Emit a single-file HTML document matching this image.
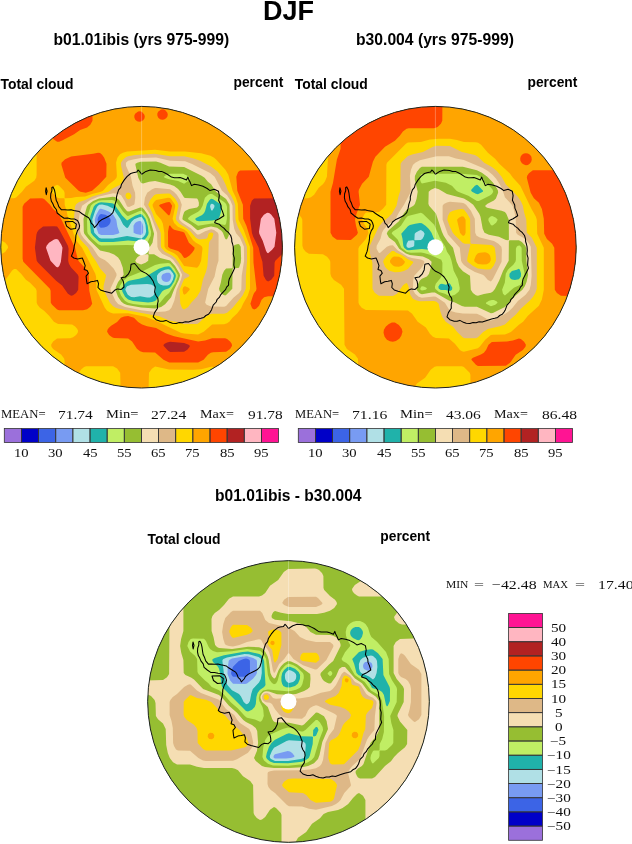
<!DOCTYPE html>
<html><head><meta charset="utf-8">
<style>
html,body{margin:0;padding:0;background:#fff;}
body{width:632px;height:844px;position:relative;overflow:hidden;}
.t{position:absolute;white-space:nowrap;line-height:1;filter:grayscale(1);}
.hb{font-family:"Liberation Sans",Arial,sans-serif;font-weight:bold;color:#000;}
.sr{font-family:"Liberation Serif","Times New Roman",serif;color:#111;}
svg{position:absolute;left:0;top:0;}
.st{position:absolute;white-space:nowrap;line-height:1;filter:grayscale(1);transform-origin:0 0;font-family:"Liberation Serif","Times New Roman",serif;color:#111;}
.lb{font-family:"Liberation Serif","Times New Roman",serif;font-size:12.3px;fill:#111;}
</style></head><body>
<svg width="632" height="844" viewBox="0 0 632 844">
<g>
<clipPath id="clipm1"><circle cx="141.6" cy="247.2" r="140.8"/></clipPath>
<g clip-path="url(#clipm1)">
<circle cx="141.6" cy="247.2" r="140.8" fill="#ffa500"/>
<circle cx="141.6" cy="247.2" r="141.5" fill="#3c64e6"/>
<path fill="#789bf2" fill-rule="evenodd" d="M1.1 105.7L283.1 105.7L283.1 388.7L0.1 388.7L0.1 105.7ZM99.7 214.7L98.1 217.2L97.5 219.7L99.1 225.9L100.1 227.4L101.1 227.8L104.1 227.6L107.1 226.4L109.1 224.7L110.2 222.7L110.7 220.7L110.3 218.7L108.1 216.2L105.4 214.7L101.1 214.1Z"/>
<path fill="#b0e0e6" fill-rule="evenodd" d="M1.1 105.7L283.1 105.7L283.1 388.7L0.1 388.7L0.1 105.7ZM99.0 209.7L96.1 214.9L94.7 219.7L96.0 226.7L98.5 233.7L101.1 235.0L113.1 234.9L118.0 233.7L119.4 232.7L117.4 226.7L116.3 219.7L113.1 214.5L109.2 211.7L105.1 209.9L101.1 208.7L100.1 208.8ZM136.9 221.7L135.1 222.9L133.5 225.7L133.6 232.7L136.1 234.0L141.1 234.9L142.1 234.3L143.1 232.7L143.2 226.7L142.5 223.7L141.1 221.3L139.1 221.1ZM166.5 272.7L163.1 274.0L162.1 275.0L161.4 276.7L161.6 278.7L162.8 280.7L164.1 281.6L166.1 282.1L168.1 281.8L169.6 280.7L170.7 278.7L171.3 275.7L170.4 273.7L169.2 272.7Z"/>
<path fill="#20b2aa" fill-rule="evenodd" d="M1.1 105.7L283.1 105.7L283.1 388.7L0.1 388.7L0.1 105.7ZM211.6 203.7L210.4 204.7L210.1 206.7L211.1 210.1L212.1 210.7L214.1 207.7L214.6 205.7L213.1 204.0ZM99.1 204.7L97.1 206.7L95.1 210.9L92.2 219.7L94.3 232.7L99.1 237.8L101.1 238.4L113.1 238.4L127.1 235.9L141.1 238.4L143.1 237.2L145.2 234.7L146.1 231.7L145.5 224.7L144.1 220.4L142.1 217.5L141.1 217.0L139.1 217.3L134.1 219.3L131.5 221.7L128.1 227.4L127.1 227.9L126.1 227.6L123.1 224.5L120.2 218.7L113.1 208.4L107.5 205.7L102.1 204.6ZM164.9 269.7L161.1 271.3L158.2 273.7L157.0 275.7L157.0 279.7L158.0 282.7L160.1 284.5L163.1 285.5L167.1 285.5L169.1 285.0L171.1 283.1L172.9 279.7L173.9 275.7L173.1 273.5L170.1 269.8L168.1 269.2ZM131.0 284.7L127.1 286.3L126.0 287.7L125.3 289.7L127.8 294.7L131.1 296.9L134.1 297.3L140.1 296.3L147.1 297.5L150.1 297.4L153.2 295.7L155.0 292.7L155.5 289.7L155.1 287.7L153.4 285.7L151.1 284.5L147.1 284.1Z"/>
<path fill="#c0ee64" fill-rule="evenodd" d="M1.1 105.7L283.1 105.7L283.1 388.7L0.1 388.7L0.1 105.7ZM209.8 199.7L207.0 203.7L205.2 210.7L204.1 213.1L202.1 215.1L196.1 217.9L195.3 218.7L195.5 219.7L196.6 220.7L199.1 221.3L212.1 220.5L216.2 219.7L218.4 218.7L219.2 217.7L221.1 211.4L221.7 205.7L219.8 203.7L213.1 199.2L211.1 198.8ZM98.7 202.7L95.3 204.7L93.7 206.7L90.5 215.7L89.7 220.7L90.9 232.7L93.1 235.8L99.1 241.4L101.1 241.9L113.1 241.9L128.1 240.4L141.1 241.8L143.4 240.7L146.3 237.7L148.2 234.7L148.6 232.7L147.7 225.7L145.5 218.7L142.1 214.4L140.1 214.1L135.1 215.8L127.1 220.6L122.1 215.5L114.1 204.1L112.1 203.2L107.4 202.7L101.1 202.3ZM164.7 266.7L158.9 268.7L145.1 276.9L139.1 278.8L129.1 280.8L127.1 281.7L124.1 284.8L121.9 288.7L122.4 291.7L125.1 296.7L128.1 299.5L133.1 301.1L148.1 302.4L152.1 302.1L155.1 301.0L157.3 298.7L162.1 291.6L164.1 290.1L169.1 288.2L171.1 286.3L174.0 281.7L175.5 277.7L175.9 275.7L175.4 273.7L171.1 267.7L169.1 266.3Z"/>
<path fill="#96be32" fill-rule="evenodd" d="M1.1 105.7L283.1 105.7L283.1 388.7L0.1 388.7L0.1 105.7ZM166.5 174.7L163.9 176.7L164.6 177.7L169.1 179.3L178.1 181.1L184.1 183.7L188.1 180.9L189.9 177.7L187.5 175.7L183.1 173.8L170.1 173.7ZM208.1 194.7L204.9 197.7L202.6 205.7L200.4 209.7L198.1 211.8L190.6 215.7L188.4 217.7L188.0 218.7L188.7 219.7L198.1 225.8L212.1 223.5L219.1 223.9L225.1 225.1L226.1 223.4L226.9 218.7L227.0 206.7L226.1 203.9L224.1 201.9L212.1 194.0L210.1 193.9ZM98.5 200.7L93.1 203.6L90.8 205.7L88.0 214.7L87.0 220.7L87.3 231.7L87.9 233.7L92.1 238.7L98.1 244.2L101.1 245.4L127.1 244.9L141.1 245.4L145.1 243.7L148.1 240.9L150.8 235.7L151.1 231.7L147.6 218.7L145.1 214.6L142.1 211.2L141.1 210.8L139.1 211.2L128.1 215.9L127.1 215.8L123.2 211.7L117.1 202.9L114.1 200.4L112.1 200.0L102.1 200.2ZM160.0 263.7L155.1 264.9L143.1 270.9L128.1 277.1L124.1 280.1L120.1 285.5L118.7 289.7L121.1 295.7L124.9 300.7L128.1 302.8L133.1 304.0L143.1 305.2L155.1 305.3L157.1 304.7L160.0 302.7L165.1 296.5L169.1 293.1L175.5 282.7L177.7 276.7L177.8 274.7L174.4 268.7L170.1 263.6L168.1 262.9Z"/>
<path fill="#f5deb3" fill-rule="evenodd" d="M1.1 105.7L283.1 105.7L283.1 388.7L0.1 388.7L0.1 105.7ZM140.7 161.7L137.2 162.7L135.5 163.7L135.4 164.7L138.3 177.7L141.1 183.0L143.1 183.5L149.1 181.8L155.1 180.9L170.1 184.4L174.1 186.1L178.1 189.0L180.5 191.7L184.1 197.6L185.1 198.1L197.1 198.6L198.1 199.9L198.9 202.7L198.8 205.7L197.1 207.4L189.1 209.1L185.1 211.0L184.1 212.3L182.9 215.7L182.4 218.7L182.8 219.7L191.0 224.7L197.1 230.0L198.1 230.3L205.1 227.8L211.1 226.4L217.1 227.8L221.4 230.7L222.9 232.7L225.1 238.5L226.1 239.4L227.1 239.0L228.7 235.7L229.4 229.7L229.8 217.7L229.5 204.7L226.1 199.0L216.0 191.7L211.1 184.2L207.9 181.7L204.6 177.7L201.6 175.7L184.1 167.0L169.1 166.5L160.4 162.7L156.1 161.5ZM112.7 196.7L99.1 198.4L93.1 201.1L88.1 204.7L86.9 206.7L83.5 218.7L83.8 231.7L84.3 233.7L89.1 239.7L100.1 250.5L109.1 252.5L114.1 254.5L118.1 257.5L120.3 260.7L122.8 267.7L123.7 274.7L118.1 282.1L116.0 286.7L115.4 289.7L118.0 296.7L121.4 301.7L124.0 303.7L127.1 305.0L141.1 307.6L155.1 308.5L161.1 306.9L165.1 304.3L171.1 297.3L174.0 289.7L178.8 279.7L180.0 275.7L179.6 273.7L175.1 266.0L170.1 260.4L160.1 258.1L154.1 254.3L149.1 254.2L148.6 253.7L148.7 248.7L152.5 242.7L154.1 233.7L149.8 218.7L147.2 213.7L144.1 209.5L142.1 207.6L140.1 207.4L129.1 211.4L127.1 211.3L124.1 207.7L119.1 199.9L115.1 197.1ZM235.3 244.7L233.7 245.7L232.7 247.7L232.6 267.7L232.1 268.2L226.1 268.5L224.1 270.8L222.3 274.7L220.8 282.7L219.0 288.7L219.5 290.7L220.9 292.7L223.1 294.7L225.1 295.6L226.1 295.1L232.3 288.7L232.6 268.7L233.1 268.2L238.1 268.1L239.1 267.4L240.7 262.7L241.1 258.7L240.7 246.7L239.1 244.2L238.1 244.0ZM141.1 254.6L148.1 254.2L148.6 255.7L148.2 260.7L145.5 262.7L141.1 264.4L136.6 262.7L135.2 260.7L137.1 257.5Z"/>
<path fill="#deb887" fill-rule="evenodd" d="M1.1 105.7L283.1 105.7L283.1 388.7L0.1 388.7L0.1 105.7ZM148.9 157.7L141.1 158.1L133.1 159.5L128.1 160.8L125.9 162.7L126.0 165.7L130.9 176.7L132.6 185.7L135.1 192.7L135.3 197.7L134.5 203.7L134.0 204.7L129.1 206.9L127.1 206.5L124.5 200.7L121.1 195.2L117.8 193.7L113.1 193.2L98.1 196.7L90.1 200.2L82.1 205.7L79.9 212.7L78.7 219.7L80.2 231.7L81.3 234.7L84.2 238.7L92.7 247.7L98.1 255.9L100.1 257.8L105.1 260.3L108.1 262.7L113.8 268.7L116.5 273.7L116.5 275.7L110.4 288.7L110.8 290.7L115.4 300.7L118.1 304.0L125.1 307.1L141.1 310.2L156.1 311.9L165.1 311.4L169.1 310.3L171.4 307.7L174.3 300.7L176.7 289.7L180.9 279.7L182.2 274.7L178.3 266.7L173.1 259.7L170.1 257.4L162.1 253.8L158.5 249.7L157.4 246.7L157.1 232.7L150.4 214.7L144.0 204.7L144.9 197.7L147.2 192.7L152.1 189.2L155.1 188.0L157.1 187.9L170.1 189.2L173.8 191.7L176.8 194.7L180.0 199.7L181.8 204.7L179.1 217.7L179.4 219.7L182.1 222.4L191.1 228.4L197.1 234.4L199.1 234.6L205.1 231.2L211.1 229.3L214.1 230.1L217.9 232.7L218.6 234.7L218.5 260.7L216.6 266.7L214.5 276.7L208.3 288.7L205.1 302.7L206.6 304.7L211.1 306.5L224.1 306.7L226.1 306.1L233.4 297.7L239.1 292.9L241.3 289.7L241.7 275.7L244.1 260.7L243.9 246.7L240.1 238.1L236.1 233.2L234.2 228.7L232.7 219.7L232.5 205.7L230.5 200.7L227.1 195.3L222.0 190.7L214.6 176.7L210.1 173.0L191.5 163.7L185.1 161.3L170.1 160.8L156.1 157.6Z"/>
<path fill="#ffd700" fill-rule="evenodd" d="M1.1 105.7L283.1 105.7L283.1 388.7L0.1 388.7L0.1 105.7ZM154.5 153.7L135.1 155.1L128.1 156.2L126.1 157.0L122.9 159.7L121.0 162.7L121.1 166.0L123.9 177.7L122.4 181.7L120.1 184.7L113.1 188.3L108.5 191.7L92.1 196.5L85.1 200.0L79.1 202.1L76.1 204.3L74.9 206.7L74.0 218.7L76.8 232.7L80.6 239.7L88.0 247.7L91.5 254.7L96.3 261.7L100.1 268.5L105.8 274.7L106.1 275.7L103.6 285.7L103.5 289.7L109.9 302.7L113.1 306.3L116.1 308.0L120.1 309.1L159.1 316.2L169.1 320.4L178.1 322.2L184.1 324.1L197.1 324.0L199.1 322.7L205.2 316.7L209.1 314.5L212.1 313.7L224.1 313.7L227.1 312.7L232.7 307.7L242.5 295.7L245.8 288.7L245.9 275.7L247.1 260.7L246.9 246.7L243.1 237.0L237.8 226.7L236.1 222.0L235.4 218.7L235.3 205.7L234.2 201.7L231.8 196.7L227.9 190.7L225.7 184.7L222.3 177.7L217.8 171.7L211.1 166.5L200.1 160.7L193.1 158.2L184.1 156.3L170.1 156.2ZM128.1 192.6L130.1 193.3L131.5 195.7L131.1 197.5L130.1 198.7L128.1 199.4L126.1 197.9L125.4 195.7L126.1 193.6ZM162.1 193.7L168.1 193.4L170.1 193.8L175.1 198.6L177.6 202.7L178.5 205.7L175.9 217.7L176.1 219.9L179.4 223.7L185.9 227.7L190.1 231.0L196.1 238.1L199.1 239.4L206.1 238.8L207.4 237.7L208.5 233.7L209.8 232.7L212.1 232.4L213.5 233.7L212.1 238.6L210.0 240.7L209.0 242.7L207.4 265.7L206.0 271.7L202.9 279.7L200.5 290.7L197.1 296.6L191.2 302.7L188.1 306.9L184.1 309.6L182.1 308.2L180.3 303.7L179.5 289.7L184.1 279.1L188.6 276.7L189.5 275.7L189.2 274.7L184.1 272.0L178.7 262.7L175.1 258.0L172.1 255.6L165.0 251.7L161.3 247.7L160.9 245.7L160.8 233.7L160.1 230.7L155.1 220.8L152.1 212.2L148.2 204.7L150.3 199.7L154.1 195.3L156.1 194.2Z"/>
<path fill="#ffa500" fill-rule="evenodd" d="M1.1 105.7L283.1 105.7L283.1 388.7L218.6 388.7L218.2 372.7L215.3 368.7L212.1 366.6L201.1 369.2L193.1 369.7L169.1 369.6L155.1 366.6L151.9 368.7L149.0 372.7L148.6 388.7L120.6 388.7L120.2 372.7L117.1 368.5L113.1 366.3L86.1 366.3L84.1 367.1L81.1 369.5L76.3 376.7L73.1 379.3L71.0 379.7L67.1 376.9L64.7 372.7L64.6 360.7L64.1 358.4L61.1 354.5L53.1 348.9L51.5 346.7L51.1 344.7L53.1 341.5L57.1 338.6L70.1 338.2L73.1 337.3L76.1 334.9L77.7 332.7L78.1 330.7L77.1 328.7L75.1 326.5L72.1 324.6L58.1 324.1L53.9 321.7L49.1 315.7L44.1 310.8L39.9 307.7L37.5 304.7L36.7 302.7L36.6 290.7L35.9 288.7L30.1 282.8L25.9 279.7L21.1 273.7L16.1 269.0L14.1 269.1L12.1 270.5L6.1 278.9L3.1 281.4L0.1 282.7L0.1 254.7L5.1 251.9L8.1 247.7L7.7 245.7L5.3 242.7L0.1 239.7L0.1 198.2L14.1 198.2L16.1 197.5L22.0 191.7L25.9 186.7L34.3 180.7L36.2 177.7L36.6 174.7L36.6 150.7L35.7 147.7L33.1 144.5L25.1 138.9L19.3 130.7L11.1 124.9L5.3 116.7L0.1 113.7L0.1 105.7ZM155.0 149.7L127.1 151.6L122.9 152.7L120.1 154.2L117.4 157.7L116.1 162.5L116.9 175.7L116.5 177.7L114.8 179.7L108.1 185.0L103.0 190.7L100.9 191.7L92.1 193.9L85.1 196.4L76.1 197.1L71.1 198.1L65.1 198.2L64.6 197.7L64.6 192.7L63.9 190.7L59.1 185.7L57.1 184.7L55.1 185.7L52.9 187.7L51.5 189.7L51.4 191.7L57.1 197.5L59.1 198.2L64.1 198.2L64.6 198.7L64.7 204.7L66.8 211.7L68.1 218.7L71.2 225.7L74.2 235.7L77.2 241.7L82.1 247.7L95.3 273.7L96.1 276.7L96.4 289.7L104.8 307.7L107.1 310.7L110.1 312.5L113.1 313.5L128.1 313.2L145.6 316.7L156.1 321.0L180.8 332.7L184.1 333.5L198.1 334.4L203.7 331.7L212.1 324.4L224.1 324.2L227.1 323.3L229.3 321.7L232.5 317.7L237.1 313.4L241.1 308.3L243.1 303.7L247.7 295.7L250.0 288.7L249.9 246.7L243.6 229.7L238.5 219.7L237.8 203.7L235.9 197.7L232.6 190.7L228.3 174.7L225.4 169.7L216.1 159.5L214.1 157.7L210.5 155.7L201.1 153.2L185.1 151.6L170.1 151.5ZM168.1 197.7L170.1 198.1L171.1 199.0L175.1 204.7L175.2 206.7L172.6 218.7L174.1 222.9L177.9 226.7L184.1 229.4L187.1 231.7L193.1 240.3L196.0 242.7L200.1 244.9L202.1 246.7L202.5 248.7L201.1 260.7L199.1 265.6L197.1 267.7L184.1 265.9L177.3 255.7L174.1 253.3L168.1 250.5L165.8 248.7L164.5 246.7L164.3 232.7L162.9 223.7L161.1 219.7L156.1 214.0L152.9 206.7L152.5 204.7L154.1 201.9L156.1 200.1ZM184.1 286.4L185.1 286.2L188.1 287.4L189.6 288.7L189.7 289.7L186.1 293.7L184.1 294.8L183.1 293.2L182.5 289.7L183.1 287.6Z"/>
<path fill="#ff4500" fill-rule="evenodd" d="M22.1 105.7L92.6 105.7L92.5 120.7L90.3 124.7L87.1 127.4L80.1 130.0L74.1 134.3L62.1 140.4L59.1 141.7L57.1 141.8L52.9 138.7L47.3 130.7L39.1 124.9L33.3 116.7L25.1 110.9L23.1 108.1ZM161.1 109.4L163.1 109.3L165.1 109.9L167.4 112.7L167.8 114.7L167.3 116.7L166.1 118.3L164.1 119.5L162.1 119.7L160.1 119.2L158.3 117.7L157.4 115.7L157.3 113.7L158.1 111.7ZM138.1 111.4L140.1 111.3L142.1 111.9L144.4 114.7L144.8 116.7L144.3 118.7L143.1 120.3L141.1 121.5L139.1 121.7L137.1 121.2L135.3 119.7L134.4 117.7L134.3 115.7L135.1 113.7ZM93.1 153.7L98.1 152.8L100.1 153.0L102.1 154.8L104.2 157.7L106.5 163.7L106.3 176.7L99.1 184.4L92.1 190.7L85.8 192.7L80.5 191.7L78.6 190.7L65.3 177.7L61.4 164.7L61.5 162.7L65.1 159.2L71.1 156.4ZM240.1 170.4L283.1 170.2L283.1 296.2L268.1 296.2L264.1 297.2L261.6 299.7L259.1 305.7L256.1 308.7L254.1 309.6L252.1 308.2L250.4 303.7L253.1 295.3L254.1 293.1L256.0 290.7L256.5 288.7L253.5 262.7L253.2 247.7L246.4 225.7L243.2 218.7L242.9 204.7L237.3 190.7L236.3 176.7L238.1 172.1ZM30.1 198.4L42.1 198.2L44.1 198.9L50.0 204.7L53.1 208.9L58.1 213.2L59.6 215.7L75.0 247.7L77.9 259.7L79.2 261.7L85.1 267.9L88.8 274.7L89.3 290.7L92.2 303.7L90.3 306.7L87.1 309.3L83.1 310.2L59.1 310.2L57.1 309.5L52.1 304.7L50.8 302.7L50.6 290.7L49.9 288.7L23.3 261.7L22.6 258.7L22.6 206.7L24.1 203.7ZM166.1 202.5L169.1 202.0L170.1 202.5L172.1 205.7L170.1 213.9L169.1 215.5L168.1 215.1L159.0 205.7L160.1 204.5ZM170.1 225.6L172.1 228.3L174.1 229.8L183.1 231.9L184.4 232.7L188.9 242.7L194.7 247.7L194.2 249.7L192.1 252.8L189.2 255.7L186.1 257.8L184.1 258.1L181.1 253.6L178.1 251.1L170.1 248.5L168.1 246.7L168.0 231.7L169.1 225.8ZM124.1 316.5L128.1 316.0L134.0 317.7L138.1 321.9L142.1 324.4L147.1 326.2L156.1 328.0L166.1 333.5L174.1 336.2L198.1 341.5L205.1 340.4L212.1 338.3L225.1 338.3L227.1 339.1L230.1 341.5L231.7 343.7L232.1 345.7L230.1 348.9L226.1 351.8L213.1 352.2L210.8 352.7L207.9 354.7L203.6 359.7L198.1 362.4L169.1 362.4L163.5 359.7L155.1 352.4L143.1 352.2L140.1 351.3L136.9 348.7L132.1 341.5L128.1 338.6L114.1 338.1L112.1 337.3L109.1 334.9L107.1 331.7L107.5 329.7L108.9 327.7L111.1 325.7L117.1 321.9L120.9 317.7Z"/>
<path fill="#b22222" fill-rule="evenodd" d="M254.1 198.4L283.1 198.2L283.1 253.1L275.3 260.7L274.6 262.7L274.2 275.7L271.3 279.7L268.1 281.6L266.1 280.2L263.6 275.7L262.4 261.7L260.2 254.7L258.7 247.7L253.1 236.5L251.9 232.7L250.1 218.7L250.1 205.7L251.8 200.7ZM43.1 226.6L54.1 226.2L57.1 226.6L59.1 229.2L67.9 245.7L68.6 248.7L68.2 260.7L68.9 263.7L71.1 267.6L77.9 274.7L78.6 276.7L78.2 289.7L76.1 292.9L73.1 295.3L71.1 295.7L67.9 293.7L62.1 285.5L56.1 280.7L38.1 262.7L36.7 260.7L34.9 247.7L36.4 234.7L37.1 232.3L38.9 229.7ZM167.1 342.5L170.1 341.8L184.1 343.1L188.7 344.7L189.8 345.7L189.7 346.7L187.3 349.7L184.1 351.8L170.1 352.0L168.1 350.7L163.5 345.7L163.6 344.7L164.6 343.7Z"/>
<path fill="#ffb6c1" fill-rule="evenodd" d="M267.1 212.7L269.1 213.1L271.1 214.5L274.3 218.7L276.3 232.7L274.5 246.7L272.1 249.7L268.1 253.2L267.1 252.7L266.0 250.7L262.7 240.7L259.3 233.7L259.0 231.7L260.9 218.7L263.9 214.7ZM54.1 239.6L56.1 238.9L58.1 239.5L61.3 244.7L62.5 247.7L60.9 261.7L59.4 265.7L58.1 267.2L57.1 267.3L56.1 266.7L50.5 260.7L46.0 247.7L46.6 245.7L49.0 242.7Z"/>
</g>
<path d="M53.0 186.9L54.4 189.7L55.1 192.8L55.6 196.5L56.2 200.2L57.7 203.3L58.8 206.6L61.5 209.8L64.7 209.8L67.9 210.0L71.1 209.8L73.7 210.5L76.4 210.9L79.3 211.6L81.7 213.5L86.0 216.2L88.7 217.8L90.3 220.5L91.2 223.1L93.3 225.1L94.4 227.6L97.2 224.7L98.7 222.0L101.5 219.8L105.8 217.7L110.1 215.5L112.9 212.7L114.3 208.4L115.1 204.2L116.5 199.9L116.5 197.0L117.2 194.2L118.6 189.9L120.7 187.4L121.5 184.2L124.3 179.9L127.2 176.4L130.7 173.5L133.1 172.8L136.7 172.1L138.1 170.0L139.5 171.4L141.7 174.2L145.9 171.4L150.2 170.0L153.1 170.2L155.9 170.4L158.7 171.4L161.6 171.4L164.5 172.8L167.3 174.2L171.5 177.1L174.3 177.7L177.2 177.8L180.1 177.6L182.9 178.5L186.5 179.9L187.9 177.1L188.8 179.7L190.1 182.1L191.5 185.6L194.3 184.2L198.6 184.9L202.9 186.3L207.2 188.5L210.0 190.6L214.3 189.2L218.5 191.3L219.3 195.7L218.6 200.3L220.9 204.9L221.1 208.1L222.4 211.1L223.9 215.7L221.6 217.2L219.3 218.8L215.5 220.4L214.7 222.7L219.3 224.2L221.4 226.4L223.9 228.1L226.1 230.6L228.6 232.7L230.7 235.5L231.7 238.8L231.8 241.5L232.6 244.0L233.2 246.5L233.5 250.4L233.2 254.2L234.3 258.1L234.0 262.0L233.8 265.1L234.7 268.1L233.2 271.2L231.7 274.3L229.3 278.9L228.6 282.0L228.6 285.1L226.6 287.1L225.5 289.7L222.4 292.8L220.6 294.9L219.3 297.4L217.2 299.3L216.2 302.0L213.2 305.1L211.6 309.7L210.2 312.1L208.5 314.3L205.9 315.5L203.9 317.4L200.9 318.3L197.8 319.0L193.1 320.5L188.5 322.1L185.3 321.8L182.3 322.8L179.2 322.6L176.2 323.6L172.4 323.3L168.9 321.9L166.0 320.4L163.2 321.3L160.3 321.2L156.0 319.7L153.2 316.9L154.6 312.6L157.5 308.3L157.4 304.7L158.2 301.2L157.8 298.1L156.0 295.5L154.6 292.0L155.3 287.0L154.2 284.2L153.2 281.3L150.3 277.0L148.3 275.1L146.1 273.4L141.8 271.3L139.4 269.4L137.5 267.0L134.7 263.5L131.1 264.2L130.7 267.0L130.4 269.9L128.3 274.2L125.4 277.0L121.1 277.7L123.3 281.3L123.8 284.1L124.0 287.0L121.3 289.4L117.5 288.9L114.6 290.3L111.8 293.2L108.0 292.2L104.2 291.3L100.4 289.9L98.0 287.5L98.5 283.7L97.5 280.4L94.2 281.3L90.9 281.8L87.1 283.7L86.6 280.8L86.1 276.1L88.5 273.2L87.1 270.4L84.2 269.4L85.2 265.6L83.8 261.8L82.3 258.0L77.6 259.0L73.8 258.0L71.4 256.2L73.3 251.4L73.9 248.6L74.3 245.7L75.3 241.8L75.7 238.6L75.9 235.4L77.5 230.6L79.1 228.4L79.6 225.8L78.8 223.0L77.5 220.5L74.5 219.1L71.1 218.9L67.6 218.1L64.1 218.3L60.4 215.7L57.2 213.0L56.3 209.5L54.0 206.6L52.9 203.8L51.4 201.3L50.6 197.6L50.8 193.8L51.9 190.7L51.9 187.4ZM65.1 221.7L72.6 221.4L76.4 224.2L75.6 228.6L70.6 229.2L66.6 226.2ZM46.1 187.7L47.1 191.2L46.3 194.7L45.6 191.2Z" fill="none" stroke="#000" stroke-width="1.05" stroke-linejoin="round"/>
<line x1="141.6" y1="106.39999999999998" x2="141.6" y2="247.2" stroke="#fff" stroke-opacity="0.4" stroke-width="0.7"/>
<circle cx="141.6" cy="247.2" r="8" fill="#fff"/>
<circle cx="141.6" cy="247.2" r="140.8" fill="none" stroke="#222" stroke-width="1"/>
</g>
<g>
<clipPath id="clipm2"><circle cx="435.4" cy="247.2" r="140.8"/></clipPath>
<g clip-path="url(#clipm2)">
<circle cx="435.4" cy="247.2" r="140.8" fill="#ffa500"/>
<circle cx="435.4" cy="247.2" r="141.5" fill="#b0e0e6"/>
<path fill="#20b2aa" fill-rule="evenodd" d="M294.9 105.7L576.9 105.7L576.9 388.7L293.9 388.7L293.9 105.7ZM419.0 230.7L415.9 232.4L414.7 233.7L414.4 239.7L414.9 240.2L420.9 240.0L422.5 238.7L423.9 236.3L424.6 233.7L423.5 231.7L420.9 230.1ZM408.2 240.7L406.7 243.7L406.4 245.7L406.9 247.2L408.9 247.9L413.3 246.7L414.2 245.7L414.4 240.7L412.9 240.2Z"/>
<path fill="#c0ee64" fill-rule="evenodd" d="M294.9 105.7L576.9 105.7L576.9 388.7L293.9 388.7L293.9 105.7ZM474.9 185.7L471.3 189.7L471.2 190.7L472.1 191.7L475.9 193.8L477.9 194.2L482.8 191.7L483.1 190.7L477.9 185.3L476.9 184.8ZM415.2 223.7L409.9 225.1L407.9 226.2L401.3 233.7L402.5 238.7L403.3 245.7L404.2 247.7L406.9 249.9L408.9 250.3L421.9 249.0L434.9 250.4L436.9 249.6L438.3 247.7L438.0 245.7L433.5 237.7L431.5 232.7L428.9 229.1L425.5 225.7L421.9 223.2L419.9 222.9ZM516.7 269.7L511.9 271.0L509.5 273.7L509.4 276.7L510.7 278.7L511.9 279.4L514.9 279.9L518.9 279.2L520.8 276.7L521.1 273.7L519.9 269.8L518.9 268.8ZM448.1 283.7L445.9 284.8L441.9 283.7L439.9 284.2L438.3 286.7L438.8 288.7L440.9 290.0L445.9 289.9L448.9 291.1L450.8 290.7L452.0 289.7L452.3 287.7L449.9 283.4L448.9 283.2Z"/>
<path fill="#96be32" fill-rule="evenodd" d="M294.9 105.7L576.9 105.7L576.9 388.7L293.9 388.7L293.9 105.7ZM420.8 174.7L419.4 177.7L420.9 182.3L421.9 183.4L434.9 180.8L445.9 182.8L451.9 185.7L456.5 190.7L458.1 191.7L468.3 195.7L476.9 201.0L478.9 200.9L489.9 195.4L491.9 194.0L493.2 191.7L492.7 189.7L490.9 187.5L485.9 183.4L480.1 176.7L476.9 174.9L461.9 173.7L423.9 173.7L421.9 173.9ZM420.9 212.7L407.9 215.9L405.9 217.9L400.9 225.7L397.9 228.3L392.9 231.4L391.9 232.7L391.8 233.7L397.8 239.7L401.3 247.7L406.9 252.0L410.9 252.7L420.9 252.5L423.9 253.0L429.9 254.7L441.3 259.7L442.4 262.7L442.3 274.7L440.7 277.7L435.8 283.7L434.9 286.7L435.2 288.7L438.9 292.0L444.9 293.8L448.9 295.7L450.9 295.9L454.9 294.7L458.6 291.7L459.6 289.7L459.7 287.7L457.9 279.0L453.7 270.7L451.5 260.7L449.9 256.0L447.0 251.7L445.3 246.7L439.9 238.1L434.2 224.7L422.9 213.7ZM490.1 216.7L488.4 218.7L488.5 220.7L490.9 225.0L491.9 225.5L492.9 225.3L496.1 222.7L497.7 219.7L495.9 217.8L492.9 216.3L491.9 216.1ZM517.9 245.7L516.7 246.7L515.9 248.7L515.9 259.7L515.4 261.7L513.3 264.7L507.9 269.7L505.8 273.7L504.8 282.7L502.1 289.7L503.0 293.7L504.9 295.5L513.9 287.8L519.9 285.1L522.3 281.7L524.4 276.7L524.4 272.7L521.8 260.7L521.6 247.7L519.9 245.6ZM421.2 286.7L420.2 288.7L420.5 289.7L421.9 290.6L425.6 289.7L426.9 288.7L426.4 287.7L423.9 286.5L421.9 286.2ZM489.0 300.7L485.9 302.7L486.1 303.7L490.9 306.3L495.3 304.7L497.6 302.7L496.9 301.4L493.9 300.1L491.9 299.9Z"/>
<path fill="#f5deb3" fill-rule="evenodd" d="M294.9 105.7L576.9 105.7L576.9 388.7L293.9 388.7L293.9 105.7ZM425.7 166.7L421.9 166.8L419.9 168.0L416.9 171.7L414.9 175.9L414.8 179.7L417.7 191.7L416.6 198.7L414.9 204.0L413.4 205.7L406.9 209.4L403.9 213.2L398.9 221.2L389.2 229.7L387.5 231.7L386.8 233.7L388.9 237.6L394.9 242.0L399.2 248.7L405.9 253.4L409.9 255.0L422.9 256.5L428.9 259.2L431.6 261.7L430.8 267.7L428.9 274.0L426.9 276.4L421.9 278.7L419.6 280.7L416.8 286.7L416.4 288.7L416.9 290.2L419.9 293.4L421.9 294.2L431.9 292.6L434.9 292.6L448.9 300.4L454.9 302.4L461.9 306.1L464.9 306.7L476.9 306.8L490.9 313.3L492.9 312.9L504.9 306.9L507.9 304.3L513.9 297.0L522.4 289.7L524.9 286.0L526.6 281.7L528.1 274.7L526.4 260.7L526.4 248.7L525.3 245.7L521.9 242.1L518.9 240.3L509.9 240.2L508.9 240.7L508.7 260.7L503.1 270.7L499.1 280.7L494.9 289.1L492.9 291.6L490.9 292.7L483.9 294.0L477.9 295.8L475.9 295.3L472.9 292.9L470.8 289.7L470.0 275.7L462.9 271.3L458.9 266.7L456.6 261.7L453.0 247.7L447.7 241.7L443.7 235.7L441.9 231.7L435.9 213.5L429.1 205.7L428.4 203.7L428.7 191.7L431.0 189.7L434.9 188.0L438.9 189.2L446.9 193.9L463.9 198.5L468.9 201.4L473.2 204.7L479.3 213.7L480.5 216.7L482.7 228.7L484.5 232.7L488.9 234.8L498.9 236.8L505.9 240.0L507.9 240.2L508.9 239.7L508.8 219.7L506.3 213.7L504.9 212.1L501.6 210.7L487.1 207.7L485.6 206.7L485.2 205.7L487.5 203.7L493.9 200.4L495.9 198.4L498.1 192.7L498.0 190.7L497.1 188.7L492.9 182.5L487.3 176.7L481.9 172.7L476.9 170.2L462.9 166.8Z"/>
<path fill="#deb887" fill-rule="evenodd" d="M294.9 105.7L576.9 105.7L576.9 388.7L293.9 388.7L293.9 105.7ZM434.4 156.7L419.9 160.3L415.3 162.7L412.9 165.1L411.0 169.7L409.9 175.7L410.8 190.7L409.9 193.6L404.0 204.7L398.9 212.4L395.2 219.7L387.9 224.8L383.6 229.7L382.0 232.7L380.5 238.7L376.7 245.7L376.5 248.7L378.8 252.7L379.9 252.9L386.9 246.7L389.9 245.4L392.9 245.2L397.9 250.6L407.9 256.7L411.9 257.9L420.9 259.4L423.6 260.7L424.3 261.7L424.3 262.7L422.9 265.7L420.9 268.6L414.3 275.7L413.3 279.7L412.9 289.7L415.1 293.7L418.7 296.7L421.9 297.8L433.9 296.5L435.9 296.8L444.9 302.7L448.9 309.2L450.9 310.9L455.9 312.4L462.9 313.6L476.9 313.8L481.4 315.7L488.3 319.7L490.9 320.4L492.9 320.1L504.9 313.9L508.9 311.2L512.5 307.7L517.9 301.1L525.6 294.7L529.5 289.7L530.8 284.7L531.6 275.7L530.8 246.7L528.9 243.2L525.9 239.7L522.9 237.4L517.8 234.7L516.1 232.7L515.7 217.7L513.1 206.7L511.8 204.7L504.9 197.2L502.5 189.7L499.9 184.4L496.1 178.7L492.5 174.7L487.9 171.0L482.9 168.0L463.9 159.9L455.9 158.4L448.9 156.3L436.9 156.2ZM446.9 202.5L449.9 201.8L461.9 202.8L463.9 203.3L466.1 204.7L470.9 210.7L474.8 218.7L475.2 232.7L476.6 235.7L479.9 237.6L493.9 241.1L498.4 243.7L501.4 246.7L501.9 249.7L501.6 261.7L492.9 279.1L490.9 281.5L487.9 279.9L484.2 275.7L482.7 274.7L474.9 271.9L467.9 268.1L463.9 265.1L461.9 262.5L461.1 260.7L459.8 247.7L447.9 234.5L442.6 219.7L442.6 205.7L443.9 204.0Z"/>
<path fill="#ffd700" fill-rule="evenodd" d="M294.9 105.7L576.9 105.7L576.9 388.7L293.9 388.7L293.9 105.7ZM433.0 146.7L422.9 152.1L412.9 154.2L407.9 156.0L401.9 161.7L400.6 163.7L400.3 190.7L398.4 196.7L396.5 205.7L391.9 213.7L387.9 217.7L382.7 221.7L378.8 226.7L369.3 246.7L369.8 252.7L372.4 262.7L372.5 288.7L374.7 292.7L378.9 295.8L392.9 296.1L397.1 293.7L402.9 285.5L404.9 283.7L406.9 283.1L408.3 285.7L410.3 294.7L412.9 298.7L415.9 300.3L419.9 301.2L433.9 301.0L436.5 301.7L438.7 303.7L440.4 311.7L442.2 316.7L445.7 321.7L453.1 326.7L457.0 331.7L462.9 337.5L464.9 338.2L475.9 338.2L477.9 337.2L482.9 332.2L487.9 328.9L499.9 326.2L504.9 324.4L515.9 314.4L520.9 308.7L529.9 300.4L533.1 296.7L535.4 292.7L536.8 288.7L536.8 247.7L531.9 237.7L526.8 232.7L526.3 219.7L524.2 212.7L522.9 205.7L520.9 201.2L517.9 196.7L505.9 184.4L501.6 176.7L496.9 171.0L491.9 167.0L484.2 162.7L477.9 156.8L474.9 155.1L461.9 152.1L449.9 146.0L436.9 145.7ZM457.9 209.6L461.9 208.9L463.9 209.5L467.2 213.7L470.1 218.7L470.4 242.7L470.9 243.7L490.9 244.9L492.9 245.7L494.8 247.7L495.8 255.7L495.9 260.7L493.7 265.7L490.9 269.2L485.9 269.6L477.9 268.6L472.7 265.7L467.7 261.7L467.2 260.7L467.4 257.7L470.4 244.7L469.9 243.7L464.9 243.7L462.9 243.0L454.4 234.7L452.8 232.7L449.9 226.7L447.3 219.7L447.9 216.1L449.9 212.2L452.9 210.8ZM391.9 251.1L393.9 251.1L396.3 252.7L401.9 255.1L407.9 259.3L413.2 261.7L413.2 262.7L407.9 268.9L403.9 271.1L399.9 272.0L394.9 272.2L389.4 270.7L386.9 269.0L385.0 266.7L383.1 261.7L383.8 259.7L386.8 255.7Z"/>
<path fill="#ffa500" fill-rule="evenodd" d="M294.9 105.7L576.9 105.7L576.9 338.2L547.9 338.3L543.9 340.5L540.8 344.7L540.4 349.7L540.8 373.7L543.9 377.9L551.9 383.5L554.9 388.7L470.4 388.7L470.4 374.7L469.7 372.7L463.9 366.9L461.9 366.2L458.9 366.2L436.9 366.2L434.6 366.7L430.7 369.7L425.1 377.7L416.9 383.5L413.9 388.7L358.4 388.7L358.0 358.7L354.9 354.5L346.9 348.9L344.5 344.7L344.0 288.7L341.1 284.7L333.9 279.9L331.3 276.7L330.4 273.7L330.3 261.7L329.5 259.7L327.1 256.7L322.9 254.3L308.9 253.8L305.7 251.7L303.3 248.7L302.4 245.7L302.3 219.7L301.5 217.7L299.1 214.7L293.9 211.7L293.9 198.2L307.9 198.2L310.9 197.3L314.1 194.7L318.7 187.7L322.9 184.3L324.9 181.6L326.9 176.7L328.4 150.7L328.1 148.7L326.7 146.7L317.9 140.7L312.7 132.7L303.9 126.7L298.9 119.0L296.4 116.7L293.9 115.4L293.9 105.7ZM438.8 138.7L429.9 139.6L420.9 142.1L407.9 142.4L405.9 143.7L387.0 162.7L386.4 164.7L386.2 204.7L382.9 208.7L378.9 212.0L365.9 212.5L363.9 214.9L362.3 218.7L362.9 221.7L367.2 228.7L368.6 232.7L365.9 239.0L359.1 246.7L358.4 248.7L358.5 302.7L359.3 304.7L361.7 307.7L365.9 310.1L407.9 310.6L412.1 313.7L417.7 321.7L425.9 327.5L429.9 333.7L432.9 336.7L435.9 338.1L448.9 338.4L454.9 343.7L459.9 349.9L461.9 351.3L463.9 351.8L477.9 348.2L479.9 346.4L485.2 339.7L490.9 335.1L492.9 334.7L504.9 334.6L510.9 332.1L518.9 324.8L523.1 321.7L527.9 315.7L538.9 305.7L541.9 299.4L543.8 289.7L543.8 247.7L537.2 233.7L536.8 219.7L535.9 216.7L531.4 208.7L520.3 185.7L513.0 177.7L509.9 173.5L499.3 163.7L495.1 158.7L487.9 152.7L481.1 144.7L478.2 142.7L475.9 142.2L463.9 142.1L456.9 140.0L449.9 138.8ZM461.9 216.3L463.9 216.7L465.6 219.7L465.6 232.7L464.9 234.7L463.9 235.7L462.9 235.8L461.9 235.1L460.0 232.7L457.0 219.7L458.9 217.7ZM479.9 252.7L484.9 252.3L486.9 252.8L488.9 254.1L490.1 255.7L490.8 258.7L490.6 260.7L489.4 262.7L486.9 264.2L482.9 264.6L477.9 263.9L474.6 261.7L474.2 259.7L475.9 255.5L477.9 253.2ZM393.9 256.5L398.9 256.8L401.9 258.2L405.0 261.7L404.1 263.7L401.9 265.7L398.9 266.7L394.9 266.4L392.9 265.6L390.3 262.7L389.9 260.7L391.9 257.7Z"/>
<path fill="#ff4500" fill-rule="evenodd" d="M312.9 105.7L442.4 105.7L442.3 120.7L440.9 123.7L437.9 126.7L435.9 127.8L433.9 128.2L408.9 128.2L406.6 128.7L402.9 131.5L399.8 135.7L394.9 140.7L385.0 146.7L375.4 156.7L372.9 161.8L368.8 176.7L362.1 183.7L358.9 189.7L358.6 191.7L360.0 204.7L356.5 213.7L355.0 219.7L356.0 225.7L357.9 232.7L356.9 234.7L350.9 240.0L336.9 239.8L332.7 236.7L330.5 232.7L330.5 191.7L333.0 182.7L336.9 159.5L340.6 148.7L340.5 135.7L337.9 132.5L332.9 130.4L329.9 128.2L328.2 125.7L326.1 120.7L324.9 119.3L317.9 115.9L315.9 114.2L313.3 109.7L312.4 105.7ZM523.9 153.5L525.9 153.2L527.9 153.5L530.0 154.7L531.4 156.7L531.8 159.7L531.2 161.7L529.9 163.6L527.9 165.0L525.9 165.2L523.9 164.6L521.9 163.2L520.4 160.7L520.2 158.7L520.6 156.7L521.9 154.8ZM532.9 170.3L576.9 170.2L576.9 296.2L560.9 295.8L556.9 292.9L554.8 289.7L554.3 247.7L552.1 243.7L546.9 238.9L544.2 233.7L543.8 218.7L541.9 209.0L538.9 202.7L533.9 198.2L530.7 192.7L526.8 177.7L527.2 175.7L528.9 173.3ZM391.9 322.6L394.9 322.6L398.9 325.0L401.7 328.7L402.5 331.7L401.3 335.7L399.3 338.7L395.9 341.1L392.9 341.8L389.9 341.3L386.9 339.7L384.6 336.7L383.5 332.7L383.9 329.7L385.9 326.4L388.9 323.9ZM518.9 338.6L520.9 339.1L524.1 341.7L525.9 344.7L525.5 346.7L522.9 349.9L515.7 354.7L510.1 362.7L505.9 365.8L477.9 366.0L475.9 364.7L471.4 359.7L471.7 358.7L473.0 357.7L480.9 354.5L483.9 352.7L486.2 349.7L488.5 344.7L491.9 341.9L506.9 341.5L512.9 340.4Z"/>
</g>
<path d="M346.8 186.9L348.2 189.7L348.9 192.8L349.4 196.5L350.0 200.2L351.5 203.3L352.6 206.6L355.3 209.8L358.5 209.8L361.7 210.0L364.9 209.8L367.5 210.5L370.2 210.9L373.1 211.6L375.5 213.5L379.8 216.2L382.5 217.8L384.1 220.5L385.0 223.1L387.1 225.1L388.2 227.6L391.0 224.7L392.5 222.0L395.3 219.8L399.6 217.7L403.9 215.5L406.7 212.7L408.1 208.4L408.9 204.2L410.3 199.9L410.3 197.0L411.0 194.2L412.4 189.9L414.5 187.4L415.3 184.2L418.1 179.9L421.0 176.4L424.5 173.5L426.9 172.8L430.5 172.1L431.9 170.0L433.3 171.4L435.4 174.2L439.7 171.4L444.0 170.0L446.9 170.2L449.7 170.4L452.5 171.4L455.4 171.4L458.3 172.8L461.1 174.2L465.3 177.1L468.1 177.7L471.0 177.8L473.9 177.6L476.7 178.5L480.3 179.9L481.7 177.1L482.6 179.7L483.9 182.1L485.3 185.6L488.1 184.2L492.4 184.9L496.7 186.3L501.0 188.5L503.8 190.6L508.1 189.2L512.3 191.3L513.1 195.7L512.4 200.3L514.7 204.9L514.9 208.1L516.2 211.1L517.7 215.7L515.4 217.2L513.1 218.8L509.3 220.4L508.5 222.7L513.1 224.2L515.2 226.4L517.7 228.1L519.9 230.6L522.4 232.7L524.5 235.5L525.5 238.8L525.6 241.5L526.4 244.0L527.0 246.5L527.3 250.4L527.0 254.2L528.1 258.1L527.8 262.0L527.6 265.1L528.5 268.1L527.0 271.2L525.5 274.3L523.1 278.9L522.4 282.0L522.4 285.1L520.4 287.1L519.3 289.7L516.2 292.8L514.4 294.9L513.1 297.4L511.0 299.3L510.0 302.0L507.0 305.1L505.4 309.7L504.0 312.1L502.3 314.3L499.7 315.5L497.7 317.4L494.7 318.3L491.6 319.0L486.9 320.5L482.3 322.1L479.1 321.8L476.1 322.8L473.0 322.6L470.0 323.6L466.2 323.3L462.7 321.9L459.8 320.4L457.0 321.3L454.1 321.2L449.8 319.7L447.0 316.9L448.4 312.6L451.3 308.3L451.2 304.7L452.0 301.2L451.6 298.1L449.8 295.5L448.4 292.0L449.1 287.0L448.0 284.2L447.0 281.3L444.1 277.0L442.1 275.1L439.9 273.4L435.6 271.3L433.2 269.4L431.3 267.0L428.5 263.5L424.9 264.2L424.5 267.0L424.2 269.9L422.1 274.2L419.2 277.0L414.9 277.7L417.1 281.3L417.6 284.1L417.8 287.0L415.1 289.4L411.3 288.9L408.4 290.3L405.6 293.2L401.8 292.2L398.0 291.3L394.2 289.9L391.8 287.5L392.3 283.7L391.3 280.4L388.0 281.3L384.7 281.8L380.9 283.7L380.4 280.8L379.9 276.1L382.3 273.2L380.9 270.4L378.0 269.4L379.0 265.6L377.6 261.8L376.1 258.0L371.4 259.0L367.6 258.0L365.2 256.2L367.1 251.4L367.7 248.6L368.1 245.7L369.1 241.8L369.5 238.6L369.7 235.4L371.3 230.6L372.9 228.4L373.4 225.8L372.6 223.0L371.3 220.5L368.3 219.1L364.9 218.9L361.4 218.1L357.9 218.3L354.2 215.7L351.0 213.0L350.1 209.5L347.8 206.6L346.7 203.8L345.2 201.3L344.4 197.6L344.6 193.8L345.7 190.7L345.7 187.4ZM358.9 221.7L366.4 221.4L370.2 224.2L369.4 228.6L364.4 229.2L360.4 226.2ZM339.9 187.7L340.9 191.2L340.1 194.7L339.4 191.2Z" fill="none" stroke="#000" stroke-width="1.05" stroke-linejoin="round"/>
<line x1="435.4" y1="106.39999999999998" x2="435.4" y2="247.2" stroke="#fff" stroke-opacity="0.4" stroke-width="0.7"/>
<circle cx="435.4" cy="247.2" r="8" fill="#fff"/>
<circle cx="435.4" cy="247.2" r="140.8" fill="none" stroke="#222" stroke-width="1"/>
</g>
<g>
<clipPath id="clipm3"><circle cx="288.5" cy="701.5" r="140.8"/></clipPath>
<g clip-path="url(#clipm3)">
<circle cx="288.5" cy="701.5" r="140.8" fill="#f5deb3"/>
<circle cx="288.5" cy="701.5" r="141.5" fill="#3c64e6"/>
<path fill="#789bf2" fill-rule="evenodd" d="M148.0 560.0L430.0 560.0L430.0 843.0L147.0 843.0L147.0 560.0ZM243.5 659.0L238.8 661.0L233.0 666.7L231.0 673.0L231.6 675.0L233.0 676.7L246.0 676.8L249.4 674.0L250.0 672.0L249.9 661.0L249.5 660.0L248.0 659.0L246.0 658.6Z"/>
<path fill="#b0e0e6" fill-rule="evenodd" d="M148.0 560.0L430.0 560.0L430.0 843.0L147.0 843.0L147.0 560.0ZM240.5 657.0L232.0 658.6L229.3 660.0L228.7 661.0L227.7 668.0L227.5 674.0L230.0 680.2L233.0 683.8L245.0 684.0L247.0 683.6L253.0 678.7L256.0 675.0L256.9 673.0L257.0 662.0L256.6 660.0L253.2 658.0L247.0 656.2ZM365.3 662.0L364.0 663.1L363.1 665.0L363.1 667.0L364.0 668.9L367.0 670.6L369.0 670.6L371.0 669.7L372.4 667.0L372.4 665.0L371.6 663.0L369.0 661.4ZM287.7 751.0L275.0 754.2L274.0 755.3L273.4 757.0L274.0 758.0L275.0 758.4L286.0 758.6L291.0 758.1L294.1 757.0L294.5 756.0L292.2 753.0L290.0 751.4Z"/>
<path fill="#20b2aa" fill-rule="evenodd" d="M148.0 560.0L430.0 560.0L430.0 843.0L147.0 843.0L147.0 560.0ZM244.5 654.0L227.0 657.4L223.4 659.0L222.5 660.0L222.4 661.0L224.1 675.0L225.7 681.0L227.4 685.0L232.0 690.3L239.0 694.0L241.0 696.4L243.7 702.0L246.0 704.1L247.0 704.3L248.7 703.0L249.9 701.0L251.2 694.0L252.8 689.0L259.0 682.5L260.8 679.0L261.8 673.0L261.6 661.0L261.0 658.8L258.6 657.0L249.0 654.2ZM368.2 656.0L363.0 657.7L360.4 660.0L358.9 664.0L359.0 668.4L360.0 671.4L361.2 673.0L369.0 676.5L373.0 679.5L375.0 677.4L376.6 673.0L377.4 667.0L377.0 661.0L376.0 658.7L373.0 655.9L371.0 655.6ZM287.2 671.0L285.5 673.0L284.9 675.0L285.0 678.0L285.6 680.0L287.0 681.9L289.0 683.0L293.0 682.1L295.0 680.4L296.0 678.5L296.3 676.0L295.9 674.0L294.0 672.0L291.0 670.5L289.0 670.1ZM286.5 741.0L274.0 747.8L271.9 751.0L269.8 756.0L270.1 758.0L271.0 758.9L275.0 760.9L288.0 761.0L301.0 759.1L303.7 758.0L304.9 756.0L305.8 745.0L305.2 743.0L303.0 741.5L301.0 741.1L289.0 740.2Z"/>
<path fill="#c0ee64" fill-rule="evenodd" d="M148.0 560.0L430.0 560.0L430.0 843.0L147.0 843.0L147.0 560.0ZM355.4 627.0L353.0 628.0L351.0 629.9L350.2 632.0L350.2 634.0L351.0 636.0L353.0 638.1L357.0 640.0L359.0 640.2L360.5 639.0L362.0 636.8L363.0 633.0L362.7 631.0L361.0 628.4L359.0 626.9ZM365.6 650.0L359.0 652.1L352.2 659.0L354.2 664.0L356.5 673.0L358.4 675.0L364.5 678.0L367.2 680.0L369.0 682.3L372.0 688.1L379.0 690.1L382.1 692.0L383.9 695.0L386.0 705.1L387.0 706.4L388.0 705.4L389.9 701.0L390.0 689.0L389.6 687.0L383.4 675.0L382.6 659.0L378.0 653.2L373.0 649.4L371.0 649.2ZM242.5 652.0L224.0 655.2L214.9 658.0L212.8 659.0L212.2 660.0L213.0 662.0L218.0 666.7L219.0 668.7L220.1 673.0L221.1 683.0L222.1 687.0L246.0 711.0L248.0 711.5L252.0 709.7L254.7 707.0L255.8 704.0L256.4 697.0L257.6 693.0L259.8 690.0L264.1 687.0L265.5 685.0L264.1 661.0L262.6 657.0L261.0 655.0L259.4 654.0L248.0 651.6ZM287.4 667.0L284.1 670.0L282.2 673.0L281.4 677.0L281.4 681.0L282.2 684.0L283.4 686.0L286.0 687.3L290.0 687.6L295.0 686.1L298.0 683.4L299.9 679.0L300.1 675.0L298.7 672.0L295.0 668.8L290.0 666.7ZM315.9 727.0L313.2 730.0L313.0 736.0L314.0 736.5L316.0 735.7L318.5 730.0L317.8 728.0L317.0 727.1ZM286.5 734.0L275.0 739.8L271.4 743.0L268.9 747.0L266.8 753.0L266.0 757.0L267.0 759.0L270.0 761.4L274.0 763.1L288.0 763.3L302.0 761.7L305.9 760.0L308.7 758.0L309.7 756.0L312.7 744.0L313.0 737.0L312.0 736.5L301.0 736.2L289.0 733.3Z"/>
<path fill="#96be32" fill-rule="evenodd" d="M148.0 560.0L430.0 560.0L430.0 843.0L147.0 843.0L147.0 560.0ZM356.0 621.0L353.0 621.8L350.0 623.4L348.0 625.5L346.6 628.0L345.7 632.0L346.1 636.0L347.4 640.0L350.2 645.0L350.2 646.0L345.0 652.2L341.5 659.0L342.8 661.0L346.5 663.0L349.0 665.2L354.8 675.0L364.7 682.0L371.0 690.5L378.7 695.0L380.3 697.0L382.0 700.7L384.1 716.0L383.9 732.0L382.2 739.0L379.7 744.0L379.5 750.0L379.0 750.5L374.0 750.6L373.0 751.1L371.0 755.1L370.4 758.0L370.7 760.0L372.0 763.1L373.0 763.5L378.8 758.0L379.5 756.0L379.5 751.0L380.0 750.5L385.0 750.5L387.0 749.8L392.0 745.0L393.3 743.0L393.4 730.0L391.3 723.0L390.2 716.0L396.7 702.0L397.0 689.0L396.4 687.0L392.0 680.3L389.1 674.0L388.7 659.0L386.0 651.9L377.0 641.8L371.4 637.0L370.0 634.2L368.0 627.7L365.5 624.0L363.0 622.2L360.0 621.0ZM190.7 639.0L188.5 642.0L187.3 646.0L190.0 651.5L195.0 655.8L197.1 659.0L197.5 672.0L198.5 674.0L205.0 680.6L208.2 683.0L211.7 687.0L219.0 690.3L223.0 693.5L231.0 702.4L238.0 708.4L245.0 716.3L247.0 717.7L255.0 719.4L260.0 721.7L261.0 721.6L262.3 720.0L263.8 716.0L263.3 710.0L262.5 707.0L259.3 701.0L258.8 698.0L259.7 694.0L263.0 690.5L268.0 689.4L287.0 691.2L291.0 691.0L296.0 689.8L299.6 688.0L301.0 686.8L302.4 684.0L303.8 678.0L303.7 675.0L302.9 673.0L297.0 667.2L293.0 665.0L289.0 663.7L287.0 664.2L285.0 665.7L281.2 670.0L279.7 673.0L277.5 681.0L276.0 683.6L274.0 684.3L272.0 683.1L269.7 680.0L267.9 675.0L266.0 658.8L263.0 653.4L260.0 650.8L247.0 649.1L232.0 651.3L217.0 652.2L213.0 651.0L210.1 649.0L208.7 647.0L206.0 641.1L204.0 638.8L193.0 638.5ZM329.8 671.0L327.8 673.0L327.7 674.0L330.0 676.2L331.8 675.0L332.4 673.0L331.0 670.9ZM315.8 720.0L305.4 730.0L303.0 731.5L301.0 731.4L291.0 727.9L288.0 727.4L282.6 729.0L271.0 734.2L268.0 736.0L265.2 740.0L263.3 747.0L262.4 757.0L264.0 760.6L268.0 763.8L273.0 765.4L288.0 765.7L303.0 764.3L308.0 762.3L311.6 760.0L314.2 757.0L319.6 739.0L323.1 730.0L322.6 727.0L320.0 722.5L317.5 720.0Z"/>
<path fill="#f5deb3" fill-rule="evenodd" d="M366.0 560.0L367.0 560.0L422.0 560.0L419.0 565.2L410.8 571.0L405.0 579.2L396.8 585.0L391.2 593.0L388.0 595.6L385.0 596.5L359.0 596.4L357.0 595.6L354.0 593.2L352.4 591.0L352.0 589.0L354.8 585.0L362.0 580.2L365.0 576.3L365.5 574.0L365.5 560.0ZM288.0 568.9L315.0 568.5L317.0 568.9L319.0 570.0L322.0 573.0L323.4 576.0L323.5 588.0L324.2 590.0L330.0 595.9L335.0 599.8L336.6 602.0L337.0 604.0L334.2 608.0L330.0 610.7L324.0 612.7L317.0 613.9L288.0 613.9L281.0 612.7L275.0 611.0L273.4 612.0L272.2 614.0L271.5 616.0L271.9 618.0L275.0 619.8L291.0 621.3L300.0 623.4L306.0 626.8L310.5 632.0L316.0 634.7L330.0 635.0L333.0 635.8L336.0 637.3L339.3 641.0L340.5 644.0L340.6 646.0L333.2 661.0L329.0 664.5L320.7 673.0L320.4 675.0L322.3 679.0L324.0 681.0L327.0 682.8L329.0 683.5L331.0 683.2L336.0 676.3L339.1 669.0L342.0 667.1L345.0 667.1L355.0 678.4L362.0 683.2L368.0 691.2L376.0 696.8L379.1 701.0L379.3 730.0L376.4 736.0L370.5 743.0L363.5 764.0L361.9 766.0L358.0 768.6L355.7 771.0L355.6 773.0L357.0 775.9L358.0 777.4L360.0 778.5L372.0 778.4L375.0 777.0L385.0 766.0L391.0 761.2L394.1 757.0L398.0 753.0L405.0 747.2L407.1 744.0L407.3 730.0L400.0 721.6L397.4 716.0L397.8 714.0L403.7 702.0L404.0 689.0L403.0 686.4L396.7 679.0L393.6 673.0L393.6 646.0L395.8 642.0L400.0 638.9L413.0 638.5L416.0 637.6L420.0 634.0L421.0 631.0L419.0 627.8L415.0 624.9L402.0 624.5L399.0 623.6L395.0 620.0L394.0 617.0L397.0 612.8L405.0 607.2L410.8 599.0L419.0 593.2L424.8 585.0L430.0 582.0L430.0 843.0L365.5 843.0L365.4 800.0L363.0 795.8L359.0 793.0L357.0 794.0L353.0 798.0L348.2 804.0L342.6 808.0L338.0 809.9L328.0 811.9L323.6 814.0L320.0 818.2L312.0 823.8L306.2 832.0L298.0 837.8L295.0 843.0L281.5 843.0L281.5 815.0L280.8 813.0L276.0 808.0L274.0 807.0L270.0 809.8L265.2 817.0L262.0 819.6L260.0 820.0L256.8 818.0L254.4 815.0L253.6 813.0L253.1 785.0L250.2 781.0L243.0 776.2L238.0 770.3L235.0 768.8L232.0 768.0L204.0 767.9L197.0 766.7L190.0 764.6L177.0 764.4L173.0 762.2L169.8 758.0L167.8 753.0L166.2 745.0L165.7 729.0L163.0 723.5L158.0 719.2L155.9 716.0L155.5 703.0L154.6 700.0L151.0 696.0L147.0 694.0L147.0 680.5L163.0 680.1L167.0 677.2L169.1 674.0L169.6 604.0L170.4 602.0L172.8 599.0L175.0 597.4L177.0 597.0L181.0 599.8L183.4 604.0L183.4 631.0L181.1 639.0L180.1 646.0L181.3 653.0L183.4 660.0L183.7 673.0L185.4 675.0L191.0 677.4L194.0 679.5L203.1 689.0L219.0 695.0L223.3 699.0L229.0 705.7L237.0 712.7L243.3 720.0L246.0 722.1L252.0 725.0L255.7 728.0L257.2 731.0L258.1 743.0L256.9 751.0L254.0 758.0L255.8 761.0L262.0 766.0L265.0 767.1L274.0 768.0L289.0 768.0L302.0 767.3L308.0 766.0L314.0 763.2L318.0 759.0L319.5 755.0L322.3 742.0L328.0 729.0L326.6 721.0L324.0 716.2L318.0 712.8L316.0 712.6L304.0 724.5L302.0 725.6L289.0 722.7L275.0 722.3L273.3 721.0L272.2 719.0L267.8 707.0L262.1 702.0L260.5 698.0L260.6 696.0L262.0 693.4L264.0 691.8L266.0 691.3L269.0 691.6L277.0 694.3L288.0 694.7L296.0 693.9L304.1 691.0L307.7 689.0L309.8 687.0L310.5 679.0L310.2 674.0L297.0 664.3L291.0 661.4L288.0 660.9L284.0 663.2L281.0 666.2L278.6 670.0L276.0 676.7L275.0 678.2L274.0 678.6L272.0 676.6L270.4 673.0L268.7 660.0L267.5 656.0L265.0 651.4L262.0 648.3L259.0 647.2L248.0 646.7L232.0 648.9L219.0 647.9L217.0 647.0L215.1 645.0L213.5 637.0L211.6 631.0L211.5 619.0L212.4 616.0L214.8 613.0L219.0 609.9L224.0 605.0L229.0 598.8L233.0 596.6L259.0 596.5L262.0 595.6L265.2 593.0L270.0 585.8L278.2 580.0L283.8 572.0Z"/>
<path fill="#deb887" fill-rule="evenodd" d="M288.0 596.9L316.0 596.7L318.0 598.0L322.5 603.0L322.2 604.0L320.9 605.0L316.0 606.9L289.0 606.9L284.1 605.0L282.2 603.0L284.0 599.8ZM233.0 610.7L260.0 610.7L262.3 613.0L265.3 620.0L269.0 623.0L284.0 626.5L290.9 629.0L294.5 631.0L300.0 637.0L306.3 640.0L316.0 641.9L330.0 642.1L333.0 644.4L333.5 646.0L333.2 647.0L326.4 660.0L317.0 669.2L315.0 669.4L303.0 665.2L293.4 659.0L289.0 653.3L288.0 653.5L284.2 659.0L279.1 664.0L275.0 672.3L274.0 672.9L272.8 670.0L270.5 657.0L269.0 652.0L267.3 649.0L263.9 645.0L261.0 639.7L259.0 639.2L247.0 642.0L239.4 645.0L233.0 646.4L228.9 646.0L226.0 645.0L224.9 644.0L223.3 639.0L222.1 632.0L223.3 624.0L225.3 618.0L231.0 612.0ZM401.0 653.3L403.0 654.0L405.0 655.8L410.8 664.0L419.0 669.8L421.4 674.0L421.4 715.0L419.0 719.2L415.0 722.0L414.0 721.7L412.0 720.0L409.0 717.0L408.0 715.0L409.7 709.0L410.9 702.0L411.0 689.0L410.2 685.0L408.0 681.0L405.6 679.0L401.0 676.9L399.2 675.0L398.3 673.0L398.3 659.0L399.6 655.0ZM344.0 671.7L345.0 671.9L350.0 675.6L355.0 682.0L359.0 683.8L361.0 685.5L366.3 694.0L369.0 695.9L373.0 697.7L376.2 701.0L376.6 703.0L374.9 716.0L374.4 730.0L369.0 736.5L367.0 739.8L360.0 759.0L352.3 766.0L348.5 771.0L348.3 774.0L351.0 785.0L350.7 786.0L344.3 793.0L340.5 800.0L338.7 802.0L336.0 804.0L331.9 806.0L316.0 809.8L309.0 808.7L302.0 806.6L289.0 806.3L287.0 805.0L275.0 793.1L270.8 790.0L268.4 787.0L267.5 784.0L267.6 773.0L268.2 772.0L270.0 771.2L274.0 770.5L301.0 770.2L310.0 769.4L316.0 768.2L319.9 766.0L321.5 764.0L323.0 760.0L325.5 743.0L329.0 735.6L333.9 729.0L336.9 716.0L336.3 715.0L334.0 713.5L318.0 705.8L316.0 705.3L313.0 706.2L310.0 708.0L308.0 710.4L305.4 716.0L302.0 718.7L289.0 718.2L285.0 717.6L282.0 716.5L279.7 715.0L275.0 709.2L272.0 703.9L270.0 702.8L266.0 702.3L263.7 701.0L262.3 699.0L262.1 696.0L264.0 693.5L267.0 692.8L269.7 694.0L273.0 697.9L276.0 698.7L287.0 698.0L299.0 698.5L310.0 696.7L321.0 692.8L330.0 690.9L332.7 689.0L336.0 685.0L341.6 674.0ZM188.0 684.8L190.0 684.3L191.0 684.7L197.0 690.6L201.0 693.1L219.0 699.8L226.0 709.0L234.2 715.0L237.4 720.0L240.0 723.0L249.2 729.0L251.2 733.0L253.3 743.0L251.6 748.0L248.0 752.7L237.0 759.3L233.0 760.8L206.0 761.0L203.0 760.4L198.4 758.0L190.0 750.7L178.0 750.5L176.0 749.4L174.0 746.0L173.1 743.0L172.8 728.0L171.5 721.0L169.6 715.0L169.6 702.0L170.4 700.0L172.8 697.0L177.0 693.9L184.1 687.0Z"/>
<path fill="#ffd700" fill-rule="evenodd" d="M233.0 624.8L247.0 624.9L251.0 627.8L252.8 631.0L250.9 633.0L247.0 634.8L233.0 637.9L231.0 635.9L229.6 633.0L229.3 631.0L231.0 627.1ZM271.0 630.0L274.0 629.3L276.0 629.6L279.7 631.0L281.0 632.0L281.4 633.0L281.4 645.0L277.7 659.0L275.0 662.8L273.8 661.0L272.2 650.0L268.7 646.0L267.5 643.0L268.9 637.0L268.1 632.0L268.8 631.0ZM303.0 652.7L316.0 652.7L317.7 654.0L318.8 656.0L319.5 658.0L319.3 660.0L316.0 662.7L302.5 661.0L300.9 660.0L300.0 658.0L301.0 654.7ZM344.0 676.0L345.0 675.5L347.0 675.9L350.0 678.0L351.0 680.0L351.6 684.0L352.6 685.0L358.0 686.3L359.1 687.0L361.1 694.0L363.0 697.1L366.0 698.9L372.0 700.3L373.1 701.0L373.5 703.0L372.0 708.1L367.8 712.0L365.9 715.0L365.3 729.0L363.5 733.0L360.3 745.0L358.0 750.3L344.0 764.2L332.0 764.5L330.0 763.3L328.3 758.0L329.1 743.0L331.0 740.2L335.6 738.0L338.0 736.0L339.8 733.0L343.0 725.0L345.0 722.4L350.0 718.0L351.0 715.0L349.0 711.8L345.0 708.8L340.0 706.8L330.0 704.7L325.2 702.0L325.0 701.0L328.0 699.0L335.6 696.0L338.7 693.0L341.6 686.0L342.2 679.0ZM265.0 694.7L267.0 694.6L268.7 696.0L269.0 698.0L268.0 699.5L266.0 700.0L264.0 698.7L263.8 696.0ZM190.0 695.3L191.0 695.3L197.0 697.9L206.0 699.7L211.3 702.0L221.8 713.0L225.5 716.0L228.8 720.0L232.0 722.5L235.8 727.0L239.5 730.0L242.8 734.0L246.0 736.6L248.5 743.0L247.0 746.1L245.0 747.2L231.0 750.5L206.0 750.5L203.0 749.0L197.7 743.0L197.5 731.0L196.6 728.0L194.0 724.8L186.8 720.0L184.4 717.0L183.6 715.0L183.7 702.0L185.0 700.0ZM284.0 701.7L286.0 701.2L289.0 701.4L291.0 702.2L292.7 704.0L293.4 706.0L293.1 709.0L292.0 711.1L290.0 712.7L288.0 713.2L286.0 712.8L284.0 711.8L282.0 709.4L281.3 707.0L281.4 705.0L282.2 703.0ZM288.0 778.9L293.0 778.5L331.0 778.9L335.0 781.8L337.1 785.0L333.9 799.0L332.0 800.9L330.0 801.8L316.0 802.7L310.5 800.0L306.2 795.0L303.0 792.9L289.0 792.3L283.0 787.0L282.0 785.0L284.0 781.8Z"/>
<path fill="#ffa500" fill-rule="evenodd" d="M272.0 640.7L273.6 641.0L274.5 642.0L274.5 644.0L273.0 645.2L271.0 644.6L270.2 643.0L271.0 641.2ZM346.0 678.3L348.0 678.7L348.7 680.0L348.0 682.0L347.0 682.4L346.0 682.3L344.8 681.0L345.0 679.1ZM354.0 731.7L356.6 732.0L358.2 734.0L358.0 736.4L356.0 738.3L353.3 738.0L351.7 736.0L352.0 733.3ZM210.0 732.7L212.7 733.0L214.3 735.0L214.0 737.7L212.0 739.3L209.3 739.0L207.7 737.0L208.0 734.3Z"/>
</g>
<path d="M199.9 641.2L201.3 644.0L202.0 647.1L202.5 650.8L203.1 654.5L204.6 657.6L205.7 660.9L208.4 664.1L211.6 664.1L214.8 664.3L218.0 664.1L220.6 664.8L223.3 665.2L226.2 665.9L228.6 667.8L232.9 670.5L235.6 672.1L237.2 674.8L238.1 677.4L240.2 679.4L241.3 681.9L244.1 679.0L245.6 676.3L248.4 674.1L252.7 672.0L257.0 669.8L259.8 667.0L261.2 662.7L262.0 658.5L263.4 654.2L263.4 651.3L264.1 648.5L265.5 644.2L267.6 641.7L268.4 638.5L271.2 634.2L274.1 630.7L277.6 627.8L280.0 627.1L283.6 626.4L285.0 624.3L286.4 625.7L288.6 628.5L292.8 625.7L297.1 624.3L300.0 624.5L302.8 624.7L305.6 625.7L308.5 625.7L311.4 627.1L314.2 628.5L318.4 631.4L321.2 632.0L324.1 632.1L327.0 631.9L329.8 632.8L333.4 634.2L334.8 631.4L335.7 634.0L337.0 636.4L338.4 639.9L341.2 638.5L345.5 639.2L349.8 640.6L354.1 642.8L356.9 644.9L361.2 643.5L365.4 645.6L366.2 650.0L365.4 654.6L367.8 659.2L368.0 662.4L369.3 665.4L370.8 670.0L368.5 671.5L366.2 673.1L362.4 674.7L361.6 677.0L366.2 678.5L368.3 680.7L370.8 682.4L373.0 684.9L375.5 687.0L377.6 689.8L378.6 693.1L378.7 695.8L379.5 698.3L380.1 700.9L380.4 704.7L380.1 708.5L381.2 712.4L380.9 716.3L380.7 719.4L381.6 722.4L380.1 725.5L378.6 728.6L376.2 733.2L375.5 736.3L375.5 739.4L373.5 741.4L372.4 744.0L369.3 747.1L367.5 749.2L366.2 751.7L364.1 753.6L363.1 756.3L360.1 759.4L358.5 764.0L357.1 766.4L355.4 768.6L352.8 769.8L350.8 771.7L347.8 772.6L344.7 773.3L340.0 774.8L335.4 776.4L332.2 776.1L329.2 777.1L326.1 776.9L323.1 777.9L319.3 777.6L315.8 776.2L312.9 774.7L310.1 775.6L307.2 775.5L302.9 774.0L300.1 771.2L301.5 766.9L304.4 762.6L304.3 759.0L305.1 755.5L304.7 752.4L302.9 749.8L301.5 746.3L302.2 741.3L301.1 738.5L300.1 735.6L297.2 731.3L295.2 729.4L293.0 727.7L288.7 725.6L286.3 723.7L284.4 721.3L281.6 717.8L278.0 718.5L277.6 721.3L277.3 724.2L275.2 728.5L272.3 731.3L268.0 732.0L270.2 735.6L270.7 738.4L270.9 741.3L268.2 743.7L264.4 743.2L261.5 744.6L258.7 747.5L254.9 746.5L251.1 745.6L247.3 744.2L244.9 741.8L245.4 738.0L244.4 734.7L241.1 735.6L237.8 736.1L234.0 738.0L233.5 735.1L233.0 730.4L235.4 727.5L234.0 724.7L231.1 723.7L232.1 719.9L230.7 716.1L229.2 712.3L224.5 713.3L220.7 712.3L218.3 710.5L220.2 705.7L220.8 702.9L221.2 700.0L222.2 696.1L222.6 692.9L222.8 689.7L224.4 684.9L226.0 682.7L226.5 680.1L225.7 677.3L224.4 674.8L221.4 673.4L218.0 673.2L214.5 672.4L211.0 672.6L207.3 670.0L204.1 667.3L203.2 663.8L200.9 660.9L199.8 658.1L198.3 655.6L197.5 651.9L197.7 648.1L198.8 645.0L198.8 641.7ZM212.0 676.0L219.5 675.7L223.3 678.5L222.5 682.9L217.5 683.5L213.5 680.5ZM193.0 642.0L194.0 645.5L193.2 649.0L192.5 645.5Z" fill="none" stroke="#000" stroke-width="1.05" stroke-linejoin="round"/>
<line x1="288.5" y1="560.7" x2="288.5" y2="701.5" stroke="#fff" stroke-opacity="0.4" stroke-width="0.7"/>
<circle cx="288.5" cy="701.5" r="8" fill="#fff"/>
<circle cx="288.5" cy="701.5" r="140.8" fill="none" stroke="#222" stroke-width="1"/>
</g>
<rect x="4.30" y="428.5" width="17.14" height="14" fill="#9b70db"/>
<rect x="21.44" y="428.5" width="17.14" height="14" fill="#0000c8"/>
<rect x="38.58" y="428.5" width="17.14" height="14" fill="#3c64e6"/>
<rect x="55.72" y="428.5" width="17.14" height="14" fill="#789bf2"/>
<rect x="72.86" y="428.5" width="17.14" height="14" fill="#b0e0e6"/>
<rect x="90.00" y="428.5" width="17.14" height="14" fill="#20b2aa"/>
<rect x="107.14" y="428.5" width="17.14" height="14" fill="#c0ee64"/>
<rect x="124.28" y="428.5" width="17.14" height="14" fill="#96be32"/>
<rect x="141.42" y="428.5" width="17.14" height="14" fill="#f5deb3"/>
<rect x="158.56" y="428.5" width="17.14" height="14" fill="#deb887"/>
<rect x="175.70" y="428.5" width="17.14" height="14" fill="#ffd700"/>
<rect x="192.84" y="428.5" width="17.14" height="14" fill="#ffa500"/>
<rect x="209.98" y="428.5" width="17.14" height="14" fill="#ff4500"/>
<rect x="227.12" y="428.5" width="17.14" height="14" fill="#b22222"/>
<rect x="244.26" y="428.5" width="17.14" height="14" fill="#ffb6c1"/>
<rect x="261.40" y="428.5" width="17.14" height="14" fill="#ff1493"/>
<rect x="4.30" y="428.5" width="17.14" height="14" fill="none" stroke="#333" stroke-width="0.8"/>
<rect x="21.44" y="428.5" width="17.14" height="14" fill="none" stroke="#333" stroke-width="0.8"/>
<rect x="38.58" y="428.5" width="17.14" height="14" fill="none" stroke="#333" stroke-width="0.8"/>
<rect x="55.72" y="428.5" width="17.14" height="14" fill="none" stroke="#333" stroke-width="0.8"/>
<rect x="72.86" y="428.5" width="17.14" height="14" fill="none" stroke="#333" stroke-width="0.8"/>
<rect x="90.00" y="428.5" width="17.14" height="14" fill="none" stroke="#333" stroke-width="0.8"/>
<rect x="107.14" y="428.5" width="17.14" height="14" fill="none" stroke="#333" stroke-width="0.8"/>
<rect x="124.28" y="428.5" width="17.14" height="14" fill="none" stroke="#333" stroke-width="0.8"/>
<rect x="141.42" y="428.5" width="17.14" height="14" fill="none" stroke="#333" stroke-width="0.8"/>
<rect x="158.56" y="428.5" width="17.14" height="14" fill="none" stroke="#333" stroke-width="0.8"/>
<rect x="175.70" y="428.5" width="17.14" height="14" fill="none" stroke="#333" stroke-width="0.8"/>
<rect x="192.84" y="428.5" width="17.14" height="14" fill="none" stroke="#333" stroke-width="0.8"/>
<rect x="209.98" y="428.5" width="17.14" height="14" fill="none" stroke="#333" stroke-width="0.8"/>
<rect x="227.12" y="428.5" width="17.14" height="14" fill="none" stroke="#333" stroke-width="0.8"/>
<rect x="244.26" y="428.5" width="17.14" height="14" fill="none" stroke="#333" stroke-width="0.8"/>
<rect x="261.40" y="428.5" width="17.14" height="14" fill="none" stroke="#333" stroke-width="0.8"/>
<rect x="298.30" y="428.5" width="17.14" height="14" fill="#9b70db"/>
<rect x="315.44" y="428.5" width="17.14" height="14" fill="#0000c8"/>
<rect x="332.58" y="428.5" width="17.14" height="14" fill="#3c64e6"/>
<rect x="349.72" y="428.5" width="17.14" height="14" fill="#789bf2"/>
<rect x="366.86" y="428.5" width="17.14" height="14" fill="#b0e0e6"/>
<rect x="384.00" y="428.5" width="17.14" height="14" fill="#20b2aa"/>
<rect x="401.14" y="428.5" width="17.14" height="14" fill="#c0ee64"/>
<rect x="418.28" y="428.5" width="17.14" height="14" fill="#96be32"/>
<rect x="435.42" y="428.5" width="17.14" height="14" fill="#f5deb3"/>
<rect x="452.56" y="428.5" width="17.14" height="14" fill="#deb887"/>
<rect x="469.70" y="428.5" width="17.14" height="14" fill="#ffd700"/>
<rect x="486.84" y="428.5" width="17.14" height="14" fill="#ffa500"/>
<rect x="503.98" y="428.5" width="17.14" height="14" fill="#ff4500"/>
<rect x="521.12" y="428.5" width="17.14" height="14" fill="#b22222"/>
<rect x="538.26" y="428.5" width="17.14" height="14" fill="#ffb6c1"/>
<rect x="555.40" y="428.5" width="17.14" height="14" fill="#ff1493"/>
<rect x="298.30" y="428.5" width="17.14" height="14" fill="none" stroke="#333" stroke-width="0.8"/>
<rect x="315.44" y="428.5" width="17.14" height="14" fill="none" stroke="#333" stroke-width="0.8"/>
<rect x="332.58" y="428.5" width="17.14" height="14" fill="none" stroke="#333" stroke-width="0.8"/>
<rect x="349.72" y="428.5" width="17.14" height="14" fill="none" stroke="#333" stroke-width="0.8"/>
<rect x="366.86" y="428.5" width="17.14" height="14" fill="none" stroke="#333" stroke-width="0.8"/>
<rect x="384.00" y="428.5" width="17.14" height="14" fill="none" stroke="#333" stroke-width="0.8"/>
<rect x="401.14" y="428.5" width="17.14" height="14" fill="none" stroke="#333" stroke-width="0.8"/>
<rect x="418.28" y="428.5" width="17.14" height="14" fill="none" stroke="#333" stroke-width="0.8"/>
<rect x="435.42" y="428.5" width="17.14" height="14" fill="none" stroke="#333" stroke-width="0.8"/>
<rect x="452.56" y="428.5" width="17.14" height="14" fill="none" stroke="#333" stroke-width="0.8"/>
<rect x="469.70" y="428.5" width="17.14" height="14" fill="none" stroke="#333" stroke-width="0.8"/>
<rect x="486.84" y="428.5" width="17.14" height="14" fill="none" stroke="#333" stroke-width="0.8"/>
<rect x="503.98" y="428.5" width="17.14" height="14" fill="none" stroke="#333" stroke-width="0.8"/>
<rect x="521.12" y="428.5" width="17.14" height="14" fill="none" stroke="#333" stroke-width="0.8"/>
<rect x="538.26" y="428.5" width="17.14" height="14" fill="none" stroke="#333" stroke-width="0.8"/>
<rect x="555.40" y="428.5" width="17.14" height="14" fill="none" stroke="#333" stroke-width="0.8"/>
<rect x="508.6" y="613.40" width="33.9" height="14.18" fill="#ff1493"/>
<rect x="508.6" y="627.58" width="33.9" height="14.18" fill="#ffb6c1"/>
<rect x="508.6" y="641.76" width="33.9" height="14.18" fill="#b22222"/>
<rect x="508.6" y="655.94" width="33.9" height="14.18" fill="#ff4500"/>
<rect x="508.6" y="670.12" width="33.9" height="14.18" fill="#ffa500"/>
<rect x="508.6" y="684.30" width="33.9" height="14.18" fill="#ffd700"/>
<rect x="508.6" y="698.48" width="33.9" height="14.18" fill="#deb887"/>
<rect x="508.6" y="712.66" width="33.9" height="14.18" fill="#f5deb3"/>
<rect x="508.6" y="726.84" width="33.9" height="14.18" fill="#96be32"/>
<rect x="508.6" y="741.02" width="33.9" height="14.18" fill="#c0ee64"/>
<rect x="508.6" y="755.20" width="33.9" height="14.18" fill="#20b2aa"/>
<rect x="508.6" y="769.38" width="33.9" height="14.18" fill="#b0e0e6"/>
<rect x="508.6" y="783.56" width="33.9" height="14.18" fill="#789bf2"/>
<rect x="508.6" y="797.74" width="33.9" height="14.18" fill="#3c64e6"/>
<rect x="508.6" y="811.92" width="33.9" height="14.18" fill="#0000c8"/>
<rect x="508.6" y="826.10" width="33.9" height="14.18" fill="#9b70db"/>
<rect x="508.6" y="613.40" width="33.9" height="14.18" fill="none" stroke="#333" stroke-width="0.8"/>
<rect x="508.6" y="627.58" width="33.9" height="14.18" fill="none" stroke="#333" stroke-width="0.8"/>
<rect x="508.6" y="641.76" width="33.9" height="14.18" fill="none" stroke="#333" stroke-width="0.8"/>
<rect x="508.6" y="655.94" width="33.9" height="14.18" fill="none" stroke="#333" stroke-width="0.8"/>
<rect x="508.6" y="670.12" width="33.9" height="14.18" fill="none" stroke="#333" stroke-width="0.8"/>
<rect x="508.6" y="684.30" width="33.9" height="14.18" fill="none" stroke="#333" stroke-width="0.8"/>
<rect x="508.6" y="698.48" width="33.9" height="14.18" fill="none" stroke="#333" stroke-width="0.8"/>
<rect x="508.6" y="712.66" width="33.9" height="14.18" fill="none" stroke="#333" stroke-width="0.8"/>
<rect x="508.6" y="726.84" width="33.9" height="14.18" fill="none" stroke="#333" stroke-width="0.8"/>
<rect x="508.6" y="741.02" width="33.9" height="14.18" fill="none" stroke="#333" stroke-width="0.8"/>
<rect x="508.6" y="755.20" width="33.9" height="14.18" fill="none" stroke="#333" stroke-width="0.8"/>
<rect x="508.6" y="769.38" width="33.9" height="14.18" fill="none" stroke="#333" stroke-width="0.8"/>
<rect x="508.6" y="783.56" width="33.9" height="14.18" fill="none" stroke="#333" stroke-width="0.8"/>
<rect x="508.6" y="797.74" width="33.9" height="14.18" fill="none" stroke="#333" stroke-width="0.8"/>
<rect x="508.6" y="811.92" width="33.9" height="14.18" fill="none" stroke="#333" stroke-width="0.8"/>
<rect x="508.6" y="826.10" width="33.9" height="14.18" fill="none" stroke="#333" stroke-width="0.8"/>
</svg>
<div class="t hb" id="djf" style="left:263px;top:-2px;font-size:27px;">DJF</div>
<div class="t hb" id="s1" style="left:53.5px;top:32.2px;font-size:15.65px;">b01.01ibis (yrs 975-999)</div>
<div class="t hb" id="s2" style="left:356px;top:32.2px;font-size:15.7px;">b30.004 (yrs 975-999)</div>
<div class="t hb" id="tc1" style="left:0.5px;top:78px;font-size:13.9px;">Total cloud</div>
<div class="t hb" id="pc1" style="left:233.5px;top:76.4px;font-size:13.8px;">percent</div>
<div class="t hb" id="tc2" style="left:294.8px;top:78px;font-size:13.9px;">Total cloud</div>
<div class="t hb" id="pc2" style="left:527.5px;top:76.4px;font-size:13.8px;">percent</div>
<div class="t hb" id="s3" style="left:215px;top:487.7px;font-size:15.6px;">b01.01ibis - b30.004</div>
<div class="t hb" id="tc3" style="left:147.5px;top:532.5px;font-size:13.9px;">Total cloud</div>
<div class="t hb" id="pc3" style="left:380.3px;top:530.0px;font-size:13.8px;">percent</div>
<div class="st" style="left:0.98px;top:409.35px;font-size:11.7px;transform:scaleX(1.088)">MEAN=</div>
<div class="st" style="left:57.84px;top:408.27px;font-size:13.0px;transform:scaleX(1.188)">71.74</div>
<div class="st" style="left:106.04px;top:409.35px;font-size:11.7px;transform:scaleX(1.244)">Min=</div>
<div class="st" style="left:150.82px;top:408.27px;font-size:13.0px;transform:scaleX(1.206)">27.24</div>
<div class="st" style="left:199.75px;top:409.35px;font-size:11.7px;transform:scaleX(1.209)">Max=</div>
<div class="st" style="left:247.62px;top:408.27px;font-size:13.0px;transform:scaleX(1.182)">91.78</div>
<div class="st" style="left:295.29px;top:409.35px;font-size:11.7px;transform:scaleX(1.076)">MEAN=</div>
<div class="st" style="left:352.12px;top:408.27px;font-size:13.0px;transform:scaleX(1.209)">71.16</div>
<div class="st" style="left:400.33px;top:409.35px;font-size:11.7px;transform:scaleX(1.252)">Min=</div>
<div class="st" style="left:445.51px;top:408.27px;font-size:13.0px;transform:scaleX(1.192)">43.06</div>
<div class="st" style="left:494.05px;top:409.35px;font-size:11.7px;transform:scaleX(1.209)">Max=</div>
<div class="st" style="left:541.52px;top:408.27px;font-size:13.0px;transform:scaleX(1.195)">86.48</div>
<div class="st" style="left:446.01px;top:579.20px;font-size:11.4px;transform:scaleX(1.011)">MIN</div>
<div class="st" style="left:474.22px;top:579.20px;font-size:11.4px;transform:scaleX(1.551)">=</div>
<div class="st" style="left:543.13px;top:579.20px;font-size:11.4px;transform:scaleX(0.942)">MAX</div>
<div class="st" style="left:574.62px;top:579.20px;font-size:11.4px;transform:scaleX(1.551)">=</div>
<div class="st" style="left:492.11px;top:578.65px;font-size:12.3px;transform:scaleX(1.289)">−42.48</div>
<div class="st" style="left:597.51px;top:578.65px;font-size:12.3px;transform:scaleX(1.289)">17.40</div>
<div class="st" style="left:13.76px;top:448.25px;font-size:11.7px;transform:scaleX(1.250)">10</div>
<div class="st" style="left:48.22px;top:448.25px;font-size:11.7px;transform:scaleX(1.250)">30</div>
<div class="st" style="left:82.69px;top:448.25px;font-size:11.7px;transform:scaleX(1.250)">45</div>
<div class="st" style="left:116.78px;top:448.25px;font-size:11.7px;transform:scaleX(1.250)">55</div>
<div class="st" style="left:151.06px;top:448.25px;font-size:11.7px;transform:scaleX(1.250)">65</div>
<div class="st" style="left:185.16px;top:448.25px;font-size:11.7px;transform:scaleX(1.250)">75</div>
<div class="st" style="left:219.62px;top:448.25px;font-size:11.7px;transform:scaleX(1.250)">85</div>
<div class="st" style="left:254.09px;top:448.25px;font-size:11.7px;transform:scaleX(1.250)">95</div>
<div class="st" style="left:307.76px;top:448.25px;font-size:11.7px;transform:scaleX(1.250)">10</div>
<div class="st" style="left:342.22px;top:448.25px;font-size:11.7px;transform:scaleX(1.250)">30</div>
<div class="st" style="left:376.69px;top:448.25px;font-size:11.7px;transform:scaleX(1.250)">45</div>
<div class="st" style="left:410.78px;top:448.25px;font-size:11.7px;transform:scaleX(1.250)">55</div>
<div class="st" style="left:445.06px;top:448.25px;font-size:11.7px;transform:scaleX(1.250)">65</div>
<div class="st" style="left:479.16px;top:448.25px;font-size:11.7px;transform:scaleX(1.250)">75</div>
<div class="st" style="left:513.62px;top:448.25px;font-size:11.7px;transform:scaleX(1.250)">85</div>
<div class="st" style="left:548.09px;top:448.25px;font-size:11.7px;transform:scaleX(1.250)">95</div>
<div class="st" style="left:550.80px;top:622.73px;font-size:11.7px;transform:scaleX(1.300)">50</div>
<div class="st" style="left:551.00px;top:636.91px;font-size:11.7px;transform:scaleX(1.300)">40</div>
<div class="st" style="left:550.80px;top:651.09px;font-size:11.7px;transform:scaleX(1.300)">30</div>
<div class="st" style="left:550.80px;top:665.27px;font-size:11.7px;transform:scaleX(1.300)">20</div>
<div class="st" style="left:550.61px;top:679.45px;font-size:11.7px;transform:scaleX(1.300)">15</div>
<div class="st" style="left:550.61px;top:693.63px;font-size:11.7px;transform:scaleX(1.300)">10</div>
<div class="st" style="left:554.61px;top:707.81px;font-size:11.7px;transform:scaleX(1.300)">5</div>
<div class="st" style="left:554.61px;top:721.99px;font-size:11.7px;transform:scaleX(1.300)">0</div>
<div class="st" style="left:550.42px;top:736.17px;font-size:11.7px;transform:scaleX(1.300)">−5</div>
<div class="st" style="left:546.62px;top:750.35px;font-size:11.7px;transform:scaleX(1.300)">−10</div>
<div class="st" style="left:546.62px;top:764.53px;font-size:11.7px;transform:scaleX(1.300)">−15</div>
<div class="st" style="left:546.62px;top:778.71px;font-size:11.7px;transform:scaleX(1.300)">−20</div>
<div class="st" style="left:546.62px;top:792.89px;font-size:11.7px;transform:scaleX(1.300)">−30</div>
<div class="st" style="left:546.62px;top:807.07px;font-size:11.7px;transform:scaleX(1.300)">−40</div>
<div class="st" style="left:546.62px;top:821.25px;font-size:11.7px;transform:scaleX(1.300)">−50</div>
</body></html>
